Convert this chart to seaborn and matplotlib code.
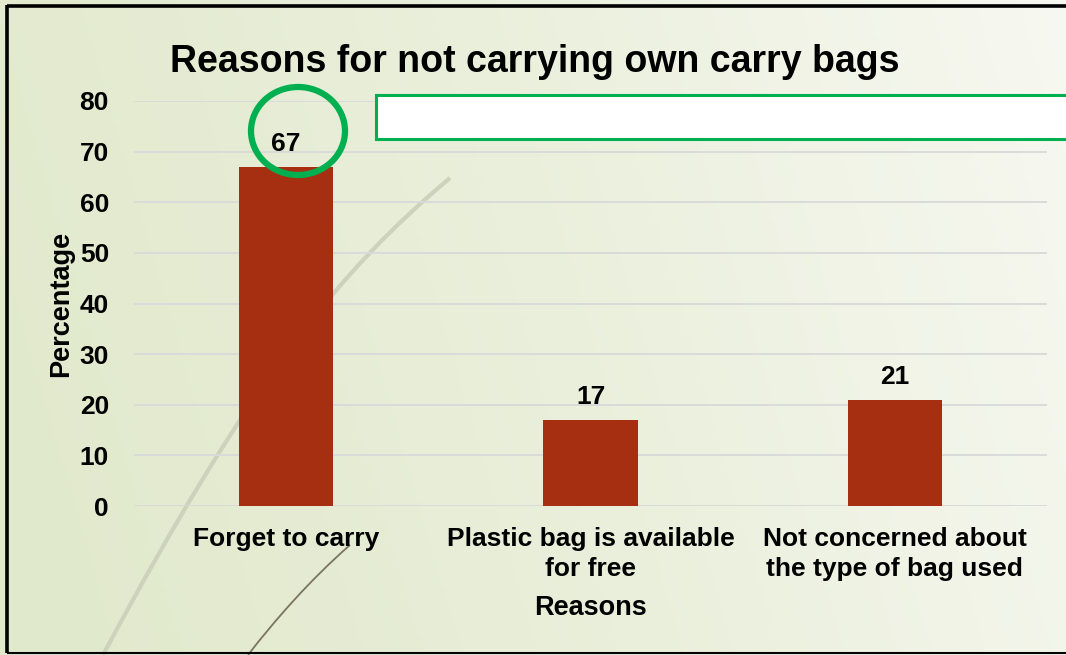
import numpy as np
import pandas as pd
import matplotlib
matplotlib.use("Agg")
import matplotlib.pyplot as plt
import seaborn as sns
from matplotlib.patches import Ellipse, Rectangle, PathPatch
from matplotlib.path import Path

# Survey data
reasons = ["Forget to carry",
           "Plastic bag is available\nfor free",
           "Not concerned about\nthe type of bag used"]
percentages = [67, 17, 21]
y_ticks = [0, 10, 20, 30, 40, 50, 60, 70, 80]

sns.set_theme(style="white")
plt.rcParams["font.family"] = ["Liberation Sans", "DejaVu Sans"]
plt.rcParams["font.weight"] = "bold"

W, H = 1066, 655
fig = plt.figure(figsize=(W / 100, H / 100), dpi=100)

# Slide-style background: soft green gradient
bg = fig.add_axes([0, 0, 1, 1], zorder=0)
gx = np.linspace(0, 1, 256)
gy = np.linspace(0, 1, 128)
X, Y = np.meshgrid(gx, gy)
t = np.clip(0.85 * X + 0.15 * (1 - Y), 0, 1) ** 1.3
c0 = np.array([0xE1, 0xE9, 0xCC]) / 255
c1 = np.array([0xF7, 0xF8, 0xF1]) / 255
img = c0[None, None, :] * (1 - t[..., None]) + c1[None, None, :] * t[..., None]
bg.imshow(img, extent=[0, W, H, 0], aspect="auto", origin="upper")
bg.set_xlim(0, W)
bg.set_ylim(H, 0)
bg.axis("off")

# Decorative swooshes
verts = [(103, 655), (250, 380), (340, 270), (450, 178)]
bg.add_patch(PathPatch(Path(verts, [Path.MOVETO, Path.CURVE4, Path.CURVE4, Path.CURVE4]),
                       fill=False, edgecolor="#CDD2BC", lw=3))
verts2 = [(248, 655), (275, 620), (310, 580), (350, 545)]
bg.add_patch(PathPatch(Path(verts2, [Path.MOVETO, Path.CURVE4, Path.CURVE4, Path.CURVE4]),
                       fill=False, edgecolor="#7A7460", lw=1.3))

# Frame
bg.plot([7, 7], [5, 653], color="black", lw=2.6, solid_capstyle="butt")
bg.plot([7, W], [5.5, 5.5], color="black", lw=2.6, solid_capstyle="butt")
bg.plot([7, W], [653, 653], color="black", lw=1.5, solid_capstyle="butt")

# Chart
ax = fig.add_axes([134 / W, 1 - 506 / H, (1047 - 134) / W, (506 - 101) / H], zorder=1)
ax.patch.set_alpha(0)
df = pd.DataFrame({"Reason": reasons, "Percentage": percentages})
sns.barplot(data=df, x="Reason", y="Percentage", color="#A52F10", width=0.31,
            saturation=1, linewidth=0, ax=ax, zorder=3)
ax.set_xlim(-0.5, 2.5)
ax.set_ylim(0, 80)
ax.set_yticks(y_ticks)
ax.yaxis.grid(True, color="#D9D9D9", lw=1.3, zorder=0)
ax.set_axisbelow(True)
for s in ax.spines.values():
    s.set_visible(False)
ax.tick_params(axis="both", length=0, labelsize=19, colors="black")
ax.tick_params(axis="y", pad=18)
ax.tick_params(axis="x", pad=15)
for lab in ax.get_xticklabels() + ax.get_yticklabels():
    lab.set_fontweight("bold")
for lab in ax.get_xticklabels():
    lab.set_linespacing(1.35)

for i, v in enumerate(percentages):
    ax.annotate(f"{v}", (i, v), xytext=(0, 8), textcoords="offset points",
                ha="center", va="bottom", fontsize=19, fontweight="bold", color="black")

ax.set_xlabel("Reasons", fontsize=19.5, fontweight="bold", labelpad=10, color="black")
ax.set_ylabel("Percentage", fontsize=19.5, fontweight="bold", labelpad=4, color="black")

fig.text(535 / W, 1 - 62 / H, "Reasons for not carrying own carry bags",
         ha="center", va="center", fontsize=27, fontweight="bold", color="black")

# Highlight ring and callout box drawn above the chart
top = fig.add_axes([0, 0, 1, 1], zorder=2)
top.set_xlim(0, W)
top.set_ylim(H, 0)
top.axis("off")
top.patch.set_alpha(0)
top.add_patch(Ellipse((298, 131), 94, 88, fill=False, edgecolor="#00B050", lw=4.5))
top.add_patch(Rectangle((376, 95), W, 44, facecolor="white", edgecolor="#00B050", lw=2.2))

fig.savefig("out.png", dpi=100)
